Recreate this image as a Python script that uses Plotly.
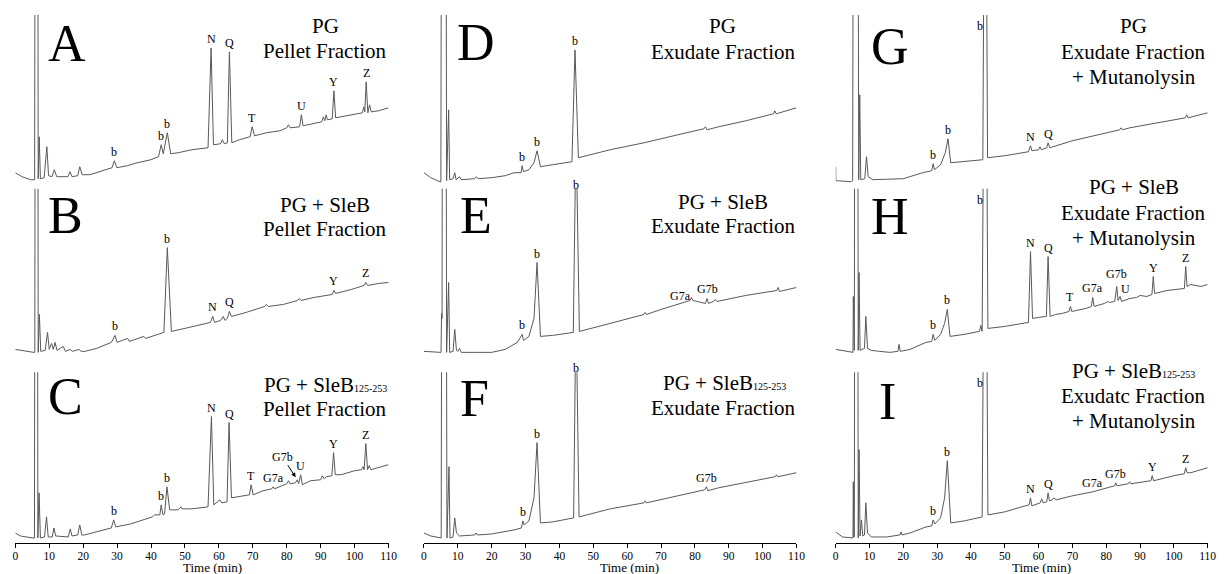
import numpy as np
import plotly.graph_objects as go

# ---------------------------------------------------------------------------
# HPLC traces: retention time (min) and detector signal (mAU) at each vertex
# ---------------------------------------------------------------------------
A_time = [0, 2, 4.5, 5.7, 6.25, 6.75, 7.05, 7.4, 8.5, 9.3, 9.8, 10.8, 11.5, 12.2, 15.5,
          16.1, 16.7, 18.4, 19.0, 19.7, 22, 25, 28.5, 29.2, 29.9, 33, 36, 40, 42.2, 43.0,
          43.6, 44.8, 45.8, 48, 52, 56.8, 57.7, 58.4, 60.5, 61.0, 61.6, 62.5, 63.1, 63.8, 66,
          69.2, 69.8, 70.5, 74, 78, 80, 80.5, 81, 83.8, 84.3, 84.8, 88, 90.3, 90.8, 91.2,
          91.6, 92, 93.4, 93.9, 94.4, 98, 102.3, 102.7, 103.0, 103.4, 103.9, 104.4, 104.9, 107, 110]
A_signal = [12, 8, 5, 5, 1500, 6, 48, 6, 7, 38, 9, 8, 15, 8, 8,
            13, 8, 9, 18, 10, 10, 13, 17, 24, 17, 19, 22, 25, 28, 40,
            31, 52, 31, 32, 35, 37, 137, 40, 41, 45, 41, 42, 133, 42, 45,
            48, 58, 49, 52, 54, 57, 60, 57, 58, 70, 59, 61, 63, 68, 64,
            70, 65, 66, 94, 67, 69, 72, 78, 73, 103, 72, 80, 73, 74, 77]

B_time = [0, 3, 5.4, 5.75, 6.25, 6.75, 7.1, 7.5, 8.8, 9.5, 10.0, 10.7, 11.2, 11.7, 12.3,
          14.1, 14.8, 16.2, 16.8, 18.8, 19.4, 20.5, 24, 28.3, 29.4, 30.0, 33.1, 33.6, 37.9, 38.4,
          43.8, 44.8, 46.0, 50, 55, 57.5, 58.2, 58.7, 60.5, 61.3, 61.8, 62.5, 63.1, 63.7, 68,
          73.5, 74, 74.5, 79, 83.2, 83.7, 84.2, 88, 93.4, 93.9, 94.4, 99, 102.8, 103.3, 103.8,
          107, 110]
B_signal = [9, 7, 6, 6, 1500, 6, 44, 7, 8, 26, 9, 15, 9, 16, 8,
            12, 7, 9, 7, 9, 7, 7, 10, 16, 23, 16, 20, 17, 22, 20,
            26, 111, 27, 30, 34, 36, 42, 36, 38, 42, 38, 40, 47, 42, 46,
            52, 54, 52, 54, 58, 60, 58, 61, 64, 68, 65, 69, 73, 76, 73,
            75, 76]

C_time = [0, 1.5, 5.2, 5.65, 6.15, 6.65, 7.0, 7.4, 8.6, 9.2, 9.7, 10.9, 11.4, 11.9, 15.6,
          16.2, 16.7, 18.4, 19.0, 19.6, 20.4, 24, 28.3, 29.0, 29.6, 34, 40.4, 41, 42.6, 43.0,
          43.5, 44.0, 44.7, 45.5, 48, 48.8, 49.2, 52, 56.8, 57.8, 58.5, 60.3, 60.8, 62.4, 63.0,
          63.7, 67, 69.0, 69.5, 70.1, 73, 75.6, 76.0, 76.4, 80, 80.5, 81, 82.6, 83.1, 83.5,
          84.1, 84.6, 87, 90, 90.5, 91, 91.7, 93.3, 93.8, 94.3, 96, 100, 102, 102.5, 102.8,
          103.3, 103.8, 104.3, 104.8, 106, 108, 110]
C_signal = [10, 7, 5, 5, 1500, 5, 50, 5, 6, 26, 6, 6, 15, 7, 6,
            14, 7, 8, 18, 8, 8, 11, 15, 23, 16, 19, 26, 28, 28, 38,
            28, 29, 56, 33, 33, 36, 34, 34, 36, 126, 38, 43, 40, 41, 120,
            45, 47, 48, 58, 48, 52, 54, 56, 54, 59, 62, 59, 60, 63, 59,
            68, 58, 62, 63, 67, 64, 66, 67, 90, 68, 68, 72, 73, 76, 73,
            99, 73, 77, 73, 74, 76, 78]

D_time = [0, 2, 4.7, 5.0, 5.85, 6.7, 7.3, 7.6, 8.6, 9.1, 9.5, 10.5, 11, 15, 15.5,
          16, 20, 24, 26.6, 28.7, 29.0, 29.4, 31, 32.5, 33.4, 34.4, 38, 43.7, 44.6, 45.6,
          55, 65, 75, 82.7, 83.1, 83.6, 87, 95, 103.2, 103.6, 104, 110]
D_signal = [12, 7, 3, 3, 1500, 4, 75, 5, 6, 12, 5, 8, 5, 6, 8,
            6, 7, 9, 12, 12, 19, 13, 15, 22, 34, 18, 20, 23, 135, 27,
            35, 42, 50, 56, 58, 55, 58, 64, 71, 74, 71, 77]

E_time = [0, 4.9, 5.05, 5.2, 5.35, 5.9, 6.7, 7.3, 7.6, 8.6, 9.1, 9.6, 10.0, 10.5, 11,
          15, 20, 24, 27.6, 29.0, 29.4, 31, 32.5, 33.4, 34.4, 38, 44.1, 44.9, 45.9, 55,
          65, 65.3, 65.7, 70, 78.6, 79.0, 79.4, 83.1, 83.6, 84.0, 85.5, 86, 86.5, 95, 104.2,
          104.6, 105, 110]
E_signal = [7, 6, 6, 45, 40, 1500, 6, 76, 6, 7, 29, 8, 7, 10, 6,
            6, 6, 9, 16, 24, 18, 22, 40, 96, 22, 23, 26, 230, 27, 35,
            44, 46, 44, 49, 58, 61, 58, 55, 60, 55, 57, 59, 57, 63, 68,
            71, 67, 71]

F_time = [0, 2, 5.1, 5.9, 6.8, 7.4, 7.7, 8.6, 9.1, 9.6, 10.5, 15, 15.4, 15.8, 20,
          24, 26.6, 28.8, 29.2, 29.6, 31, 32.5, 33.4, 34.4, 38, 44.2, 44.9, 45.8, 55, 65,
          65.3, 65.7, 75, 82.9, 83.4, 83.8, 87, 95, 103.7, 104.1, 104.5, 110]
F_signal = [10, 7, 5, 1500, 5, 76, 5, 6, 25, 10, 7, 8, 10, 8, 9,
            11, 13, 15, 22, 18, 22, 45, 100, 20, 21, 25, 240, 26, 34, 40,
            42, 40, 47, 53, 56, 52, 55, 60, 66, 68, 66, 70]

G_time = [0, 0.05, 4.6, 5.0, 5.9, 6.8, 7.1, 7.4, 8.6, 9.1, 9.6, 11, 20, 25.7, 28.4,
          28.8, 29.2, 31, 32.4, 33.2, 34.0, 38, 43.5, 44.2, 44.9, 50, 57.0, 57.6, 58.0, 60.0,
          60.4, 60.8, 62.4, 62.8, 63.3, 70, 80, 84, 84.4, 84.8, 87, 95, 103.4, 103.8, 104.2,
          110]
G_signal = [18, 4, 3, 4, 1500, 5, 90, 5, 6, 28, 8, 5, 6, 12, 14,
            21, 15, 20, 32, 46, 22, 23, 25, 500, 27, 29, 33, 39, 34, 35,
            38, 35, 37, 42, 37, 44, 52, 55, 57, 55, 57, 62, 67, 70, 67,
            72]

H_time = [0, 3, 5.1, 5.2, 5.35, 5.5, 6.05, 6.65, 6.9, 7.2, 8.5, 8.9, 9.4, 10.5, 13,
          16, 18.4, 18.7, 19.1, 22, 26.7, 28.4, 28.8, 29.3, 31, 32.2, 33.0, 33.8, 38, 42.5,
          42.9, 43.3, 44.2, 45.0, 50, 57.0, 57.6, 58.2, 60, 62.3, 62.8, 63.4, 65, 67, 69.0,
          69.4, 69.8, 74, 75.6, 76.0, 76.4, 79.5, 80.5, 81.0, 82.5, 83.1, 83.5, 84.1, 84.5, 87,
          89, 90, 92, 93.5, 93.9, 94.3, 98, 102, 103.1, 103.5, 103.9, 105, 106.5, 108, 110]
H_signal = [9, 7, 6, 62, 8, 8, 1500, 8, 86, 8, 10, 42, 10, 8, 7,
            6, 7, 14, 7, 9, 16, 17, 24, 18, 24, 35, 49, 22, 24, 27,
            33, 27, 500, 30, 32, 36, 107, 40, 41, 42, 102, 42, 44, 45, 47,
            52, 47, 50, 52, 61, 52, 55, 57, 56, 57, 72, 58, 62, 57, 60,
            61, 63, 62, 64, 82, 65, 68, 70, 70, 92, 72, 74, 73, 72, 74]

I_time = [0, 2, 5.1, 5.2, 5.35, 5.5, 6.05, 6.65, 6.9, 7.2, 7.6, 8.0, 8.5, 8.9, 9.4,
          10.5, 15, 19.0, 19.3, 19.6, 22, 26.7, 28.4, 28.8, 29.3, 31, 32.2, 33.0, 34.0, 38,
          43.3, 44.2, 45.0, 50, 55, 57.2, 57.6, 58.0, 60.5, 60.9, 61.3, 62.4, 62.8, 63.2, 64,
          64.5, 65.2, 70, 76, 82.5, 82.8, 83.2, 86.5, 86.9, 87.3, 93.2, 93.6, 94.0, 100, 103.1,
          103.5, 103.9, 105, 106, 110]
I_signal = [11, 6, 5, 61, 6, 6, 1500, 5, 93, 7, 23, 7, 8, 40, 10,
            6, 6, 8, 11, 8, 10, 16, 17, 23, 19, 25, 45, 82, 20, 22,
            26, 500, 28, 31, 36, 38, 45, 37, 40, 44, 40, 41, 50, 42, 43,
            45, 43, 47, 51, 57, 60, 57, 59, 61, 59, 62, 67, 62, 67, 69,
            75, 70, 70, 71, 75]

# peak assignments: (label, retention time in min)
A_peaks = [("b", 29.2), ("b", 43.0), ("b", 44.8), ("N", 57.7), ("Q", 63.1), ("T", 69.8),
           ("U", 84.3), ("Y", 93.9), ("Z", 103.4)]
B_peaks = [("b", 29.4), ("b", 44.8), ("N", 58.2), ("Q", 63.1), ("Y", 93.9), ("Z", 103.3)]
C_peaks = [("b", 29.0), ("b", 43.0), ("b", 44.7), ("N", 57.8), ("Q", 63.0), ("T", 69.5),
           ("G7a", 76.0), ("G7b", 83.1), ("U", 84.1), ("Y", 93.8), ("Z", 103.3)]
D_peaks = [("b", 29.0), ("b", 33.4), ("b", 44.6)]
E_peaks = [("b", 29.0), ("b", 33.4), ("b", 44.9), ("G7a", 79.0), ("G7b", 83.6)]
F_peaks = [("b", 29.2), ("b", 33.4), ("b", 44.9), ("G7b", 83.4)]
G_peaks = [("b", 28.8), ("b", 33.2), ("b", 44.2), ("N", 57.6), ("Q", 62.8)]
H_peaks = [("b", 28.8), ("b", 33.0), ("b", 44.2), ("N", 57.6), ("Q", 62.8), ("T", 69.4),
           ("G7a", 76.0), ("G7b", 83.1), ("U", 84.1), ("Y", 93.9), ("Z", 103.5)]
I_peaks = [("b", 28.8), ("b", 33.0), ("b", 44.2), ("N", 57.6), ("Q", 62.8), ("G7a", 76.0),
           ("G7b", 82.8), ("Y", 93.6), ("Z", 103.5)]

# panel headings
SUB = '<span style="font-size:10px">125-253</span>'
A_title = ["PG", "Pellet Fraction"]
B_title = ["PG + SleB", "Pellet Fraction"]
C_title = ["PG + SleB" + SUB, "Pellet Fraction"]
D_title = ["PG", "Exudate Fraction"]
E_title = ["PG + SleB", "Exudate Fraction"]
F_title = ["PG + SleB" + SUB, "Exudate Fraction"]
G_title = ["PG", "Exudate Fraction", "+ Mutanolysin"]
H_title = ["PG + SleB", "Exudate Fraction", "+ Mutanolysin"]
I_title = ["PG + SleB" + SUB, "Exudatc Fraction", "+ Mutanolysin"]

time_ticks = list(range(0, 111, 10))
x_title = "Time (min)"

# ---------------------------------------------------------------------------
# layout geometry
# ---------------------------------------------------------------------------
FIG_W, FIG_H = 1229, 574
M = dict(l=13, r=12, t=15, b=30)
PLOT_W = FIG_W - M["l"] - M["r"]
PLOT_H = FIG_H - M["t"] - M["b"]
YMAX = 170
SERIF = "Liberation Serif"
LINE = "#595959"


def fx(px):
    return (px - M["l"]) / PLOT_W


def fy(py):
    return (FIG_H - M["b"] - py) / PLOT_H


COL_PX = [(13.3, 390.0), (425.7, 801.7), (841.3, 1216.7)]
ROW_PX = [(15, 185), (189, 359), (373, 544)]
XTITLE_PX = [212, 633, 1049]

panels = [
    ("A", A_time, A_signal, A_peaks, A_title, 0, 0, (65, 44), [(326, 26), (326, 51)]),
    ("B", B_time, B_signal, B_peaks, B_title, 1, 0, (64, 216), [(326, 205), (326, 229)]),
    ("C", C_time, C_signal, C_peaks, C_title, 2, 0, (64, 397), [(326, 386), (326, 410)]),
    ("D", D_time, D_signal, D_peaks, D_title, 0, 1, (478, 43), [(727, 26), (728, 52)]),
    ("E", E_time, E_signal, E_peaks, E_title, 1, 1, (478, 216), [(728, 202), (728, 226)]),
    ("F", F_time, F_signal, F_peaks, F_title, 2, 1, (477, 399), [(729, 384), (728, 409)]),
    ("G", G_time, G_signal, G_peaks, G_title, 0, 2, (896, 47), [(1142, 26), (1142, 52), (1142, 77)]),
    ("H", H_time, H_signal, H_peaks, H_title, 1, 2, (896, 217), [(1142, 187), (1142, 213), (1142, 238)]),
    ("I", I_time, I_signal, I_peaks, I_title, 2, 2, (894, 402), [(1142, 372), (1142, 397), (1142, 422)]),
]

# where an off-scale peak carries its label (px shift from the frame top)
TALL_SHIFT = {1: (0, 5), 2: (-5, -10)}
# individual label nudges in px
NUDGE = {("E", "G7a"): (-11, -8), ("H", "G7b"): (0, 3), ("H", "U"): (5, -2)}

fig = go.Figure()
layout = dict(
    width=FIG_W, height=FIG_H, margin=M,
    paper_bgcolor="white", plot_bgcolor="white",
    showlegend=False, annotations=[],
)

for idx, (name, t, s, peaks, title, row, col, letter_xy, title_xy) in enumerate(panels):
    assert len(t) == len(s), name
    n = idx + 1
    xa = "x" if n == 1 else f"x{n}"
    ya = "y" if n == 1 else f"y{n}"
    xkey = "xaxis" if n == 1 else f"xaxis{n}"
    ykey = "yaxis" if n == 1 else f"yaxis{n}"

    x0, x1 = COL_PX[col]
    top, bot = ROW_PX[row]
    bottom_row = row == 2

    fig.add_trace(go.Scatter(
        x=t, y=s, mode="lines", xaxis=xa, yaxis=ya,
        line=dict(color=LINE, width=1), hoverinfo="skip",
    ))

    xaxis = dict(domain=[fx(x0), fx(x1)], range=[0, 110], anchor=ya,
                 showgrid=False, zeroline=False, fixedrange=True)
    if bottom_row:
        xaxis.update(showline=True, linecolor="black", linewidth=1,
                     ticks="outside", ticklen=4, tickwidth=1, tickcolor="black",
                     ticklabelstandoff=-2,
                     tickvals=time_ticks, ticktext=[str(v) for v in time_ticks],
                     tickfont=dict(family=SERIF, size=11.5, color="black"))
    else:
        xaxis.update(visible=False)
    layout[xkey] = xaxis
    layout[ykey] = dict(domain=[fy(bot), fy(top)], range=[0, YMAX], anchor=xa,
                        visible=False, fixedrange=True)

    # panel letter
    layout["annotations"].append(dict(
        text=name, xref="paper", yref="paper", x=fx(letter_xy[0]), y=fy(letter_xy[1]),
        xanchor="center", yanchor="middle", showarrow=False,
        font=dict(family=SERIF, size=52, color="black")))

    # heading lines
    for line_text, (tx, ty) in zip(title, title_xy):
        layout["annotations"].append(dict(
            text=line_text, xref="paper", yref="paper", x=fx(tx), y=fy(ty),
            xanchor="center", yanchor="middle", showarrow=False,
            font=dict(family=SERIF, size=21, color="black")))

    # peak labels
    for label, pt in peaks:
        apex = float(np.interp(pt, t, s))
        y = apex
        xs, ys = 0, 9
        if apex > YMAX:
            y = YMAX - 1
            xs, ys = TALL_SHIFT[col]
        dx, dy = NUDGE.get((name, label), (0, 0))
        ann = dict(text=label, xref=xa, yref=ya, x=pt, y=y,
                   xanchor="center", yanchor="middle",
                   xshift=xs + dx, yshift=ys + dy,
                   font=dict(family=SERIF, size=12, color="black"))
        if name == "C" and label == "G7b":
            ann.update(showarrow=True, arrowhead=2, arrowsize=0.9, arrowwidth=1,
                       arrowcolor="black", ax=-15, ay=-23, standoff=3,
                       xshift=0, yshift=0)
        else:
            ann["showarrow"] = False
        layout["annotations"].append(ann)

    if bottom_row:
        layout["annotations"].append(dict(
            text=x_title, xref="paper", yref="paper",
            x=fx(XTITLE_PX[col]), y=fy(568.5),
            xanchor="center", yanchor="middle", showarrow=False,
            font=dict(family=SERIF, size=13, color="black")))

fig.update_layout(**layout)
fig.write_html("out.html")
